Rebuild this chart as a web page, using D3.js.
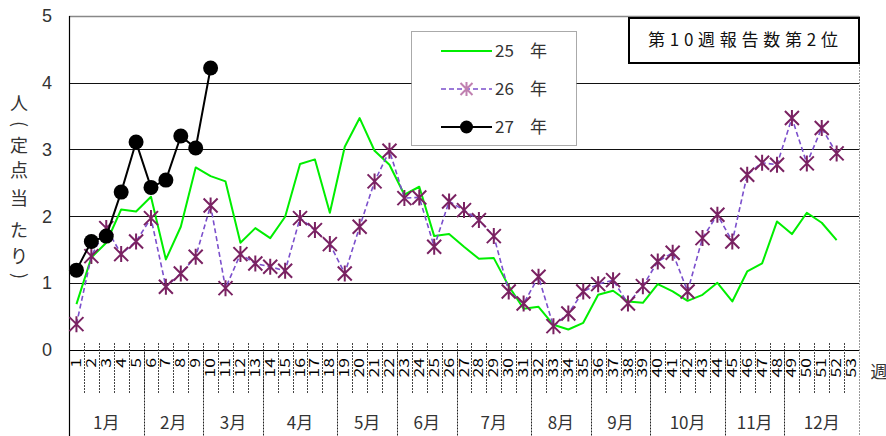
<!DOCTYPE html>
<html><head><meta charset="utf-8">
<script src="https://cdn.jsdelivr.net/npm/d3@7"></script>
<style>
html,body{margin:0;padding:0;background:#fff;}
svg{display:block;}
text{font-family:"Noto Sans CJK JP","Noto Sans",sans-serif;}
</style></head>
<body>
<svg id="chart" width="886" height="436"></svg>
<script>
// ---- data ----
const weeks = [1,2,3,4,5,6,7,8,9,10,11,12,13,14,15,16,17,18,19,20,21,22,23,24,25,26,27,28,29,30,31,32,33,34,35,36,37,38,39,40,41,42,43,44,45,46,47,48,49,50,51,52,53];
const months = ["1月","2月","3月","4月","5月","6月","7月","8月","9月","10月","11月","12月"];
const monthWeekCounts = [5,4,4,5,4,4,5,4,4,5,4,5];
const yTicks = [0,1,2,3,4,5];
const seriesNames = ["25 年","26 年","27 年"];
const y25 = [0.68,1.38,1.60,2.10,2.07,2.29,1.35,1.84,2.73,2.60,
             2.52,1.60,1.82,1.67,1.99,2.78,2.85,2.05,3.04,3.47,
             2.98,2.77,2.32,2.44,1.70,1.73,1.54,1.36,1.37,0.95,
             0.61,0.64,0.37,0.30,0.40,0.82,0.88,0.72,0.70,0.98,
             0.87,0.73,0.82,1.00,0.72,1.17,1.29,1.92,1.73,2.05,
             1.90,1.64];
const y26 = [0.38,1.40,1.82,1.43,1.62,1.97,0.94,1.14,1.39,2.16,
             0.92,1.43,1.29,1.24,1.18,1.97,1.79,1.58,1.14,1.84,
             2.52,2.98,2.27,2.28,1.54,2.22,2.09,1.94,1.70,0.87,
             0.69,1.09,0.35,0.54,0.87,0.98,1.04,0.69,0.95,1.32,
             1.45,0.87,1.67,2.02,1.62,2.62,2.80,2.77,3.47,2.79,
             3.32,2.94];
const y27 = [1.19,1.62,1.70,2.36,3.11,2.43,2.54,3.20,3.02,4.22];
const yTitleChars = ["人","(","定","点","当","た","り",")"];
const titleText = "第10週報告数第2位";

// ---- layout ----
const L = 69, R = 859, T = 16, B = 349.5;
const svg = d3.select("#chart");
const x = d3.scaleBand().domain(weeks).range([L, R]).padding(0);
const bw = x.bandwidth();
const cx = w => x(w) + bw / 2;
const y = d3.scaleLinear().domain([0, 5]).range([B, T]);

// gridlines
svg.append("g").selectAll("line").data(yTicks.filter(v => v > 0 && v < 5)).join("line")
  .attr("x1", L).attr("x2", R).attr("y1", d => Math.round(y(d)) + 0.5).attr("y2", d => Math.round(y(d)) + 0.5)
  .attr("stroke", "#111").attr("stroke-width", 1);
// top border
svg.append("line").attr("x1", L).attr("x2", R).attr("y1", Math.round(y(5)) + 0.5).attr("y2", Math.round(y(5)) + 0.5)
  .attr("stroke", "#888").attr("stroke-width", 1.5);
// right border
svg.append("line").attr("x1", R + 0.5).attr("x2", R + 0.5).attr("y1", y(5)).attr("y2", 436)
  .attr("stroke", "#999").attr("stroke-width", 1).attr("stroke-dasharray", "2,1");
// baseline
svg.append("line").attr("x1", L).attr("x2", R).attr("y1", Math.round(y(0)) + 0.5).attr("y2", Math.round(y(0)) + 0.5)
  .attr("stroke", "#000").attr("stroke-width", 1.2);
// left axis
svg.append("line").attr("x1", L + 0.5).attr("x2", L + 0.5).attr("y1", y(5)).attr("y2", 436)
  .attr("stroke", "#000").attr("stroke-width", 1.2);

// y tick labels
svg.append("g").selectAll("text").data(yTicks).join("text")
  .attr("x", 47).attr("y", d => y(d)).attr("dy", "0.36em")
  .attr("text-anchor", "middle").attr("font-size", 18).attr("fill", "#333")
  .style("font-family", "'Liberation Sans Narrow','Liberation Sans',sans-serif")
  .text(d => d);

// y title
const yTitlePos = [104, 124, 146, 171, 199, 231, 257, 276];
svg.append("g").selectAll("text").data(yTitleChars).join("text")
  .attr("transform", (d, i) => `translate(19,${yTitlePos[i]})` + ((d === "(" || d === ")") ? " rotate(90)" : ""))
  .attr("text-anchor", "middle").attr("dy", "0.36em")
  .attr("font-size", 18).attr("fill", "#333")
  .text(d => d);

// week ticks
svg.append("g").selectAll("line").data(weeks.slice(1)).join("line")
  .attr("x1", d => Math.round(x(d)) + 0.5).attr("x2", d => Math.round(x(d)) + 0.5)
  .attr("y1", 343).attr("y2", 393)
  .attr("stroke", "#444").attr("stroke-width", 1).attr("stroke-dasharray", "2,1");

// week labels (rotated)
svg.append("g").selectAll("text").data(weeks).join("text")
  .attr("transform", d => `translate(${cx(d)},358) rotate(-90) scale(1.35,1)`)
  .attr("text-anchor", "end").attr("dy", "0.35em")
  .attr("font-size", 13).attr("fill", "#000")
  .text(d => d);

// month separators and labels
let acc = 0;
const monthStarts = monthWeekCounts.map(c => { const s = acc; acc += c; return s; });
svg.append("g").selectAll("line").data(monthStarts.slice(1)).join("line")
  .attr("x1", d => Math.round(x(weeks[d])) + 0.5).attr("x2", d => Math.round(x(weeks[d])) + 0.5)
  .attr("y1", y(0)).attr("y2", 436)
  .attr("stroke", "#222").attr("stroke-width", 1).attr("stroke-dasharray", "2,1");
svg.append("g").selectAll("text").data(months).join("text")
  .attr("x", (d, i) => {
    const s = weeks[monthStarts[i]], e = weeks[monthStarts[i] + monthWeekCounts[i] - 1];
    return (x(s) + x(e) + bw) / 2;
  })
  .attr("y", 423).attr("dy", "0.36em").attr("text-anchor", "middle")
  .attr("font-size", 17).attr("fill", "#333")
  .text(d => d);

// 週 label
svg.append("text").attr("x", 879).attr("y", 372).attr("dy", "0.36em")
  .attr("text-anchor", "middle").attr("font-size", 17).attr("fill", "#333").text("週");

// series lines
const line = d3.line().x((d, i) => cx(weeks[i])).y(d => y(d));
svg.append("path").attr("d", line(y25)).attr("fill", "none")
  .attr("stroke", "#00ee00").attr("stroke-width", 2).attr("stroke-linejoin", "round");
svg.append("path").attr("d", line(y26)).attr("fill", "none")
  .attr("stroke", "#7b4fcc").attr("stroke-width", 1.6).attr("stroke-dasharray", "5,3");

function star(g, px, py, s, color) {
  g.append("path")
    .attr("d", `M${px - s},${py - s}L${px + s},${py + s}M${px + s},${py - s}L${px - s},${py + s}M${px},${py - s - 1}L${px},${py + s + 1}`)
    .attr("stroke", color).attr("stroke-width", 2).attr("fill", "none");
}
const starG = svg.append("g");
y26.forEach((v, i) => star(starG, cx(weeks[i]), y(v), 7, "#7a2262"));

svg.append("path").attr("d", line(y27)).attr("fill", "none")
  .attr("stroke", "#000").attr("stroke-width", 2);
svg.append("g").selectAll("circle").data(y27).join("circle")
  .attr("cx", (d, i) => cx(weeks[i])).attr("cy", d => y(d)).attr("r", 7.5).attr("fill", "#000");

// legend
const lg = svg.append("g");
lg.append("rect").attr("x", 411.5).attr("y", 31.5).attr("width", 165).attr("height", 114)
  .attr("fill", "#fff").attr("stroke", "#555").attr("stroke-width", 1).attr("stroke-dasharray", "1,1");
const legY = [51, 89, 127];
lg.append("line").attr("x1", 441).attr("x2", 492).attr("y1", legY[0]).attr("y2", legY[0])
  .attr("stroke", "#00ee00").attr("stroke-width", 2);
lg.append("line").attr("x1", 441).attr("x2", 492).attr("y1", legY[1]).attr("y2", legY[1])
  .attr("stroke", "#7b4fcc").attr("stroke-width", 1.6).attr("stroke-dasharray", "5,3");
star(lg, 466.5, legY[1], 6, "#c080b0");
lg.append("line").attr("x1", 441).attr("x2", 492).attr("y1", legY[2]).attr("y2", legY[2])
  .attr("stroke", "#000").attr("stroke-width", 2);
lg.append("circle").attr("cx", 466.5).attr("cy", legY[2]).attr("r", 6.5).attr("fill", "#000");
seriesNames.forEach((n, i) => {
  const parts = n.split(" ");
  lg.append("text").attr("x", 495).attr("y", legY[i]).attr("dy", "0.36em")
    .attr("font-size", 17).attr("fill", "#333").text(parts[0]);
  lg.append("text").attr("x", 530).attr("y", legY[i]).attr("dy", "0.36em")
    .attr("font-size", 17).attr("fill", "#333").text(parts[1]);
});

// title box
svg.append("rect").attr("x", 629).attr("y", 18).attr("width", 230).attr("height", 45)
  .attr("fill", "#fff").attr("stroke", "#000").attr("stroke-width", 2);
svg.append("text").attr("x", 648).attr("y", 40).attr("dy", "0.36em")
  .attr("font-size", 17).attr("fill", "#111").attr("textLength", 190).attr("lengthAdjust", "spacing")
  .text(titleText);
</script>
</body></html>
